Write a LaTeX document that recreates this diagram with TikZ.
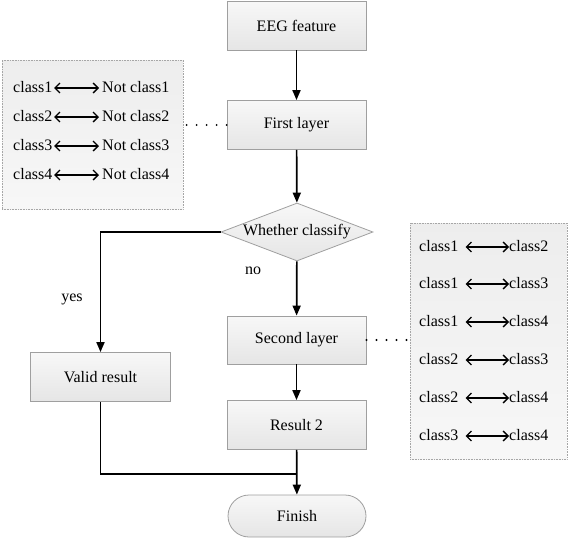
\documentclass[tikz,border=0pt]{standalone}
\usepackage{fontspec}
\setmainfont{Liberation Serif}
\usetikzlibrary{arrows.meta,shapes.geometric}
\tikzset{
  every node/.style={font=\fontsize{16}{19}\selectfont},
  procbox/.style={draw=gray!75, line width=0.8pt, top color=gray!6, bottom color=gray!20,
    minimum width=139pt, minimum height=49pt, inner sep=0pt},
  sidebox/.style={draw=gray!70, densely dotted, line width=0.6pt, top color=gray!14, bottom color=gray!6, inner sep=0pt},
  decbox/.style={draw=gray!75, line width=0.8pt, top color=gray!6, bottom color=gray!20,
    shape=diamond, aspect=2.6, minimum width=152pt, minimum height=58pt, inner sep=0pt},
  termbox/.style={draw=gray!75, line width=0.8pt, top color=gray!6, bottom color=gray!20,
    rounded corners=21pt, minimum width=138pt, minimum height=42pt, inner sep=0pt},
  flow/.style={line width=1.7pt, -{Triangle[length=10pt,width=8pt]}},
  plainline/.style={line width=1.7pt},
  dotline/.style={line width=2.2pt, line cap=round, dash pattern=on 0pt off 10pt},
  pairarrow/.style={line width=1.3pt, {Straight Barb[length=5pt,width=10pt]}-{Straight Barb[length=5pt,width=10pt]}},
  lbl/.style={inner sep=0pt, anchor=west, text height=11pt, text depth=3pt}
}
\begin{document}
\begin{tikzpicture}[x=1pt,y=-1pt]
\useasboundingbox (0,0) rectangle (568,538);
% side boxes
\node[sidebox, minimum width=181pt, minimum height=149pt] (lbox) at (92.5,134.5) {};
\node[sidebox, minimum width=157pt, minimum height=236pt] (rbox) at (488.5,341) {};
% main flow
\node[procbox] (eeg) at (296.5,25.5) {EEG feature};
\node[procbox] (first) at (296.5,125) {First layer};
\node[decbox] (dia) at (297,232) {Whether classify};
\node[procbox, minimum height=48pt] (second) at (296.5,340) {Second layer};
\node[procbox, minimum height=49pt] (res2) at (296.5,425) {Result 2};
\node[procbox, minimum width=140pt, minimum height=49pt] (valid) at (100.5,377) {Valid result};
\node[termbox] (fin) at (297,516) {Finish};
\node (no) at (253,271) {no};
\node (yes) at (72,299) {yes};
\coordinate (merge) at (296.5,474);
% connectors
\draw[flow] (eeg) -- (first);
\draw[flow] (first) -- (dia);
\draw[flow] (dia) -- (second);
\draw[flow] (second) -- (res2);
\draw[flow] (res2) -- (fin);
\draw[flow] (dia.west) -| (valid.north);
\draw[plainline] (valid.south) |- (merge);
\draw[dotline] (first.west) -- (first.west -| lbox.east);
\draw[dotline] (second.east) -- (second.east -| rbox.west);
% left box rows
\foreach \i/\y in {1/88,2/117,3/146,4/175}{
  \node[lbl] (la\i) at (13,\y) {class\i};
  \node[lbl] (lb\i) at (102,\y) {Not class\i};
  \draw[pairarrow, shorten <=1.5pt, shorten >=3pt] (la\i.east) -- (lb\i.west);
}
% right box rows
\foreach \i/\a/\b/\y in {1/1/2/247,2/1/3/284,3/1/4/322,4/2/3/360,5/2/4/398,6/3/4/436}{
  \node[lbl] (ra\i) at (419,\y) {class\a};
  \node[lbl] (rb\i) at (509,\y) {class\b};
  \draw[pairarrow, shorten <=7pt] (ra\i.east) -- (rb\i.west);
}
\end{tikzpicture}
\end{document}
